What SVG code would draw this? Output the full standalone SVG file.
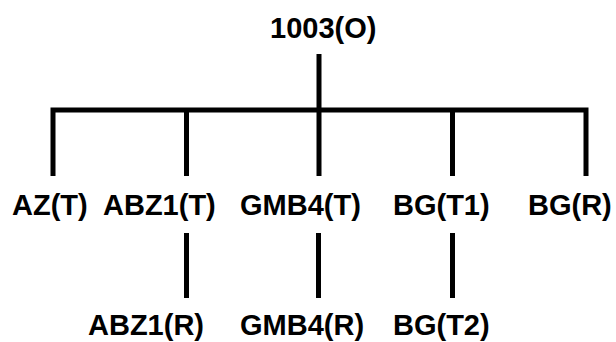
<svg xmlns="http://www.w3.org/2000/svg" width="616" height="342" viewBox="0 0 616 342">
<style>
  .lbl { font-family: "Liberation Sans", Arial, sans-serif; font-weight: bold; font-size: 29px; fill: #000; }
  .ln { stroke: #000; stroke-width: 5; fill: none; stroke-linecap: butt; }
</style>
<rect width="616" height="342" fill="#fff"/>
<g id="connectors">
  <line class="ln" x1="319" y1="54" x2="319" y2="110"/>
  <polyline class="ln" points="53,176 53,110 586,110 586,176" stroke-linejoin="miter"/>
  <line class="ln" x1="186.5" y1="110" x2="186.5" y2="176"/>
  <line class="ln" x1="319" y1="110" x2="319" y2="176"/>
  <line class="ln" x1="452.5" y1="110" x2="452.5" y2="176"/>
  <line class="ln" x1="186.5" y1="233" x2="186.5" y2="298"/>
  <line class="ln" x1="318.5" y1="233" x2="318.5" y2="298"/>
  <line class="ln" x1="452.5" y1="233" x2="452.5" y2="298"/>
</g>
<g id="n1003O"><text class="lbl" x="270" y="38">1003(O)</text></g>
<g id="nAZT"><text class="lbl" x="12" y="215">AZ(T)</text></g>
<g id="nABZ1T"><text class="lbl" x="103" y="215">ABZ1(T)</text></g>
<g id="nGMB4T"><text class="lbl" x="240" y="215">GMB4(T)</text></g>
<g id="nBGT1"><text class="lbl" x="393" y="215">BG(T1)</text></g>
<g id="nBGR"><text class="lbl" x="528" y="215">BG(R)</text></g>
<g id="nABZ1R"><text class="lbl" x="88" y="335">ABZ1(R)</text></g>
<g id="nGMB4R"><text class="lbl" x="240" y="335">GMB4(R)</text></g>
<g id="nBGT2"><text class="lbl" x="393" y="335">BG(T2)</text></g>
</svg>
